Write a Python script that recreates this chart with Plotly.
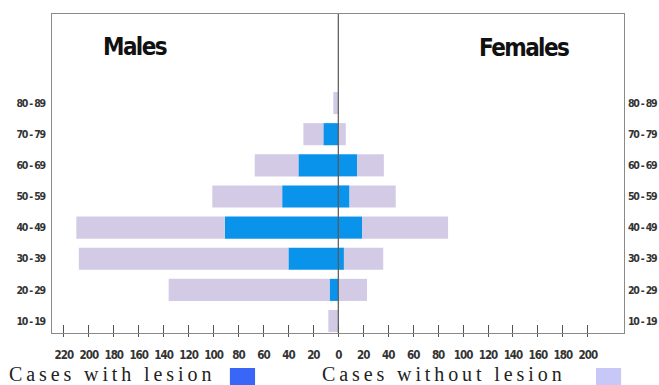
import plotly.graph_objects as go

age_groups = ["10 - 19", "20 - 29", "30 - 39", "40 - 49", "50 - 59", "60 - 69", "70 - 79", "80 - 89"]
males_with_lesion = [0, 7, 40, 91, 45, 32, 12, 0]
males_without_lesion = [8, 129, 168, 119, 56, 35, 16, 4]
females_with_lesion = [0, 0, 4.5, 19, 9, 15, 0, 0]
females_without_lesion = [0, 23, 31.5, 69, 37, 21.5, 6, 0]
x_tick_values = [-220, -200, -180, -160, -140, -120, -100, -80, -60, -40, -20, 0,
                 20, 40, 60, 80, 100, 120, 140, 160, 180, 200]
x_tick_labels = [str(abs(v)) for v in x_tick_values]


def tight(s, sp):
    return '<span style="letter-spacing:%spx">%s</span>' % (sp, s)


BLUE = "#0A93EB"
LAV = "#D3CBE6"
NARROW = "DejaVu Sans Condensed, DejaVu Sans, sans-serif"
TICKFONT = dict(family=NARROW, size=11.5, color="#333333", weight="bold")
YTICKFONT = dict(family=NARROW, size=10.5, color="#333333", weight="bold")
pos = list(range(len(age_groups)))

fig = go.Figure()
fig.add_trace(go.Bar(y=pos, x=[-v for v in males_with_lesion], orientation="h",
                     marker=dict(color=BLUE, line=dict(width=0)), width=0.71,
                     xaxis="x", yaxis="y", name="Cases with lesion"))
fig.add_trace(go.Bar(y=pos, x=[-v for v in males_without_lesion], orientation="h",
                     marker=dict(color=LAV, line=dict(width=0)), width=0.71,
                     xaxis="x", yaxis="y", name="Cases without lesion"))
fig.add_trace(go.Bar(y=pos, x=females_with_lesion, orientation="h",
                     marker=dict(color=BLUE, line=dict(width=0)), width=0.71,
                     xaxis="x2", yaxis="y2", name="Cases with lesion"))
fig.add_trace(go.Bar(y=pos, x=females_without_lesion, orientation="h",
                     marker=dict(color=LAV, line=dict(width=0)), width=0.71,
                     xaxis="x2", yaxis="y2", name="Cases without lesion"))

xr = [-229.5, 229]
yr = [-0.385, 9.86]
ylabels = [tight(a, -1.2) for a in age_groups]

fig.update_layout(
    width=659, height=385,
    margin=dict(l=52, r=35, t=14, b=52),
    paper_bgcolor="white", plot_bgcolor="white",
    barmode="relative", showlegend=False,
    xaxis=dict(range=xr, tickmode="array", tickvals=x_tick_values,
               ticktext=[tight(t, -1) for t in x_tick_labels],
               ticks="inside", ticklen=8, tickcolor="#555555", tickwidth=1, tickangle=0,
               showline=True, linecolor="#8a8a8a", linewidth=1, mirror=True, automargin=False,
               showgrid=False, zeroline=False, tickfont=TICKFONT, ticklabelstandoff=11),
    xaxis2=dict(range=xr, overlaying="x", anchor="y", side="bottom", automargin=False,
                tickmode="array", tickvals=x_tick_values, ticks="outside", ticklen=3,
                tickcolor="#555555", showticklabels=False, showline=False,
                showgrid=False, zeroline=False),
    yaxis=dict(range=yr, tickmode="array", tickvals=pos, ticktext=ylabels, automargin=False,
               ticks="", showline=True, linecolor="#8a8a8a", linewidth=1, mirror=True,
               showgrid=False, zeroline=False, tickfont=YTICKFONT, ticklabelstandoff=4),
    yaxis2=dict(range=yr, overlaying="y", anchor="x", side="right", automargin=False,
                tickmode="array", tickvals=pos, ticktext=ylabels, ticks="",
                showline=False, showgrid=False, zeroline=False, tickfont=YTICKFONT,
                ticklabelstandoff=3),
)

fig.add_shape(type="line", xref="x", yref="paper", x0=0, x1=0, y0=0, y1=1,
              line=dict(color="#555555", width=1.2), layer="above")

title_font = dict(family=NARROW, size=24, color="#111111", weight="bold")
fig.add_annotation(text=tight("Males", -1.6), xref="paper", yref="paper", x=0.145, y=0.897,
                   xanchor="center", yanchor="middle", showarrow=False, font=title_font)
fig.add_annotation(text=tight("Females", -1.6), xref="paper", yref="paper", x=0.825, y=0.893,
                   xanchor="center", yanchor="middle", showarrow=False, font=title_font)

leg_font = dict(family="Liberation Serif, DejaVu Serif, serif", size=20, color="#222222")
fig.add_annotation(text=tight("Cases with lesion", 3.9),
                   xref="paper", yref="paper", x=-0.0785, y=-0.129, xanchor="left",
                   yanchor="middle", showarrow=False, font=leg_font)
fig.add_annotation(text=tight("Cases without lesion", 3.9),
                   xref="paper", yref="paper", x=0.468, y=-0.129, xanchor="left",
                   yanchor="middle", showarrow=False, font=leg_font)
fig.add_shape(type="rect", xref="paper", yref="paper", x0=0.311, x1=0.355, y0=-0.175, y1=-0.1097,
              fillcolor="#3A66F8", line=dict(width=0))
fig.add_shape(type="rect", xref="paper", yref="paper", x0=0.951, x1=0.995, y0=-0.175, y1=-0.1097,
              fillcolor="#C8C8F8", line=dict(width=0))

fig.write_html("out.html", config={"displayModeBar": False},
               post_script="document.body.style.margin='0';document.body.style.overflow='hidden';")
